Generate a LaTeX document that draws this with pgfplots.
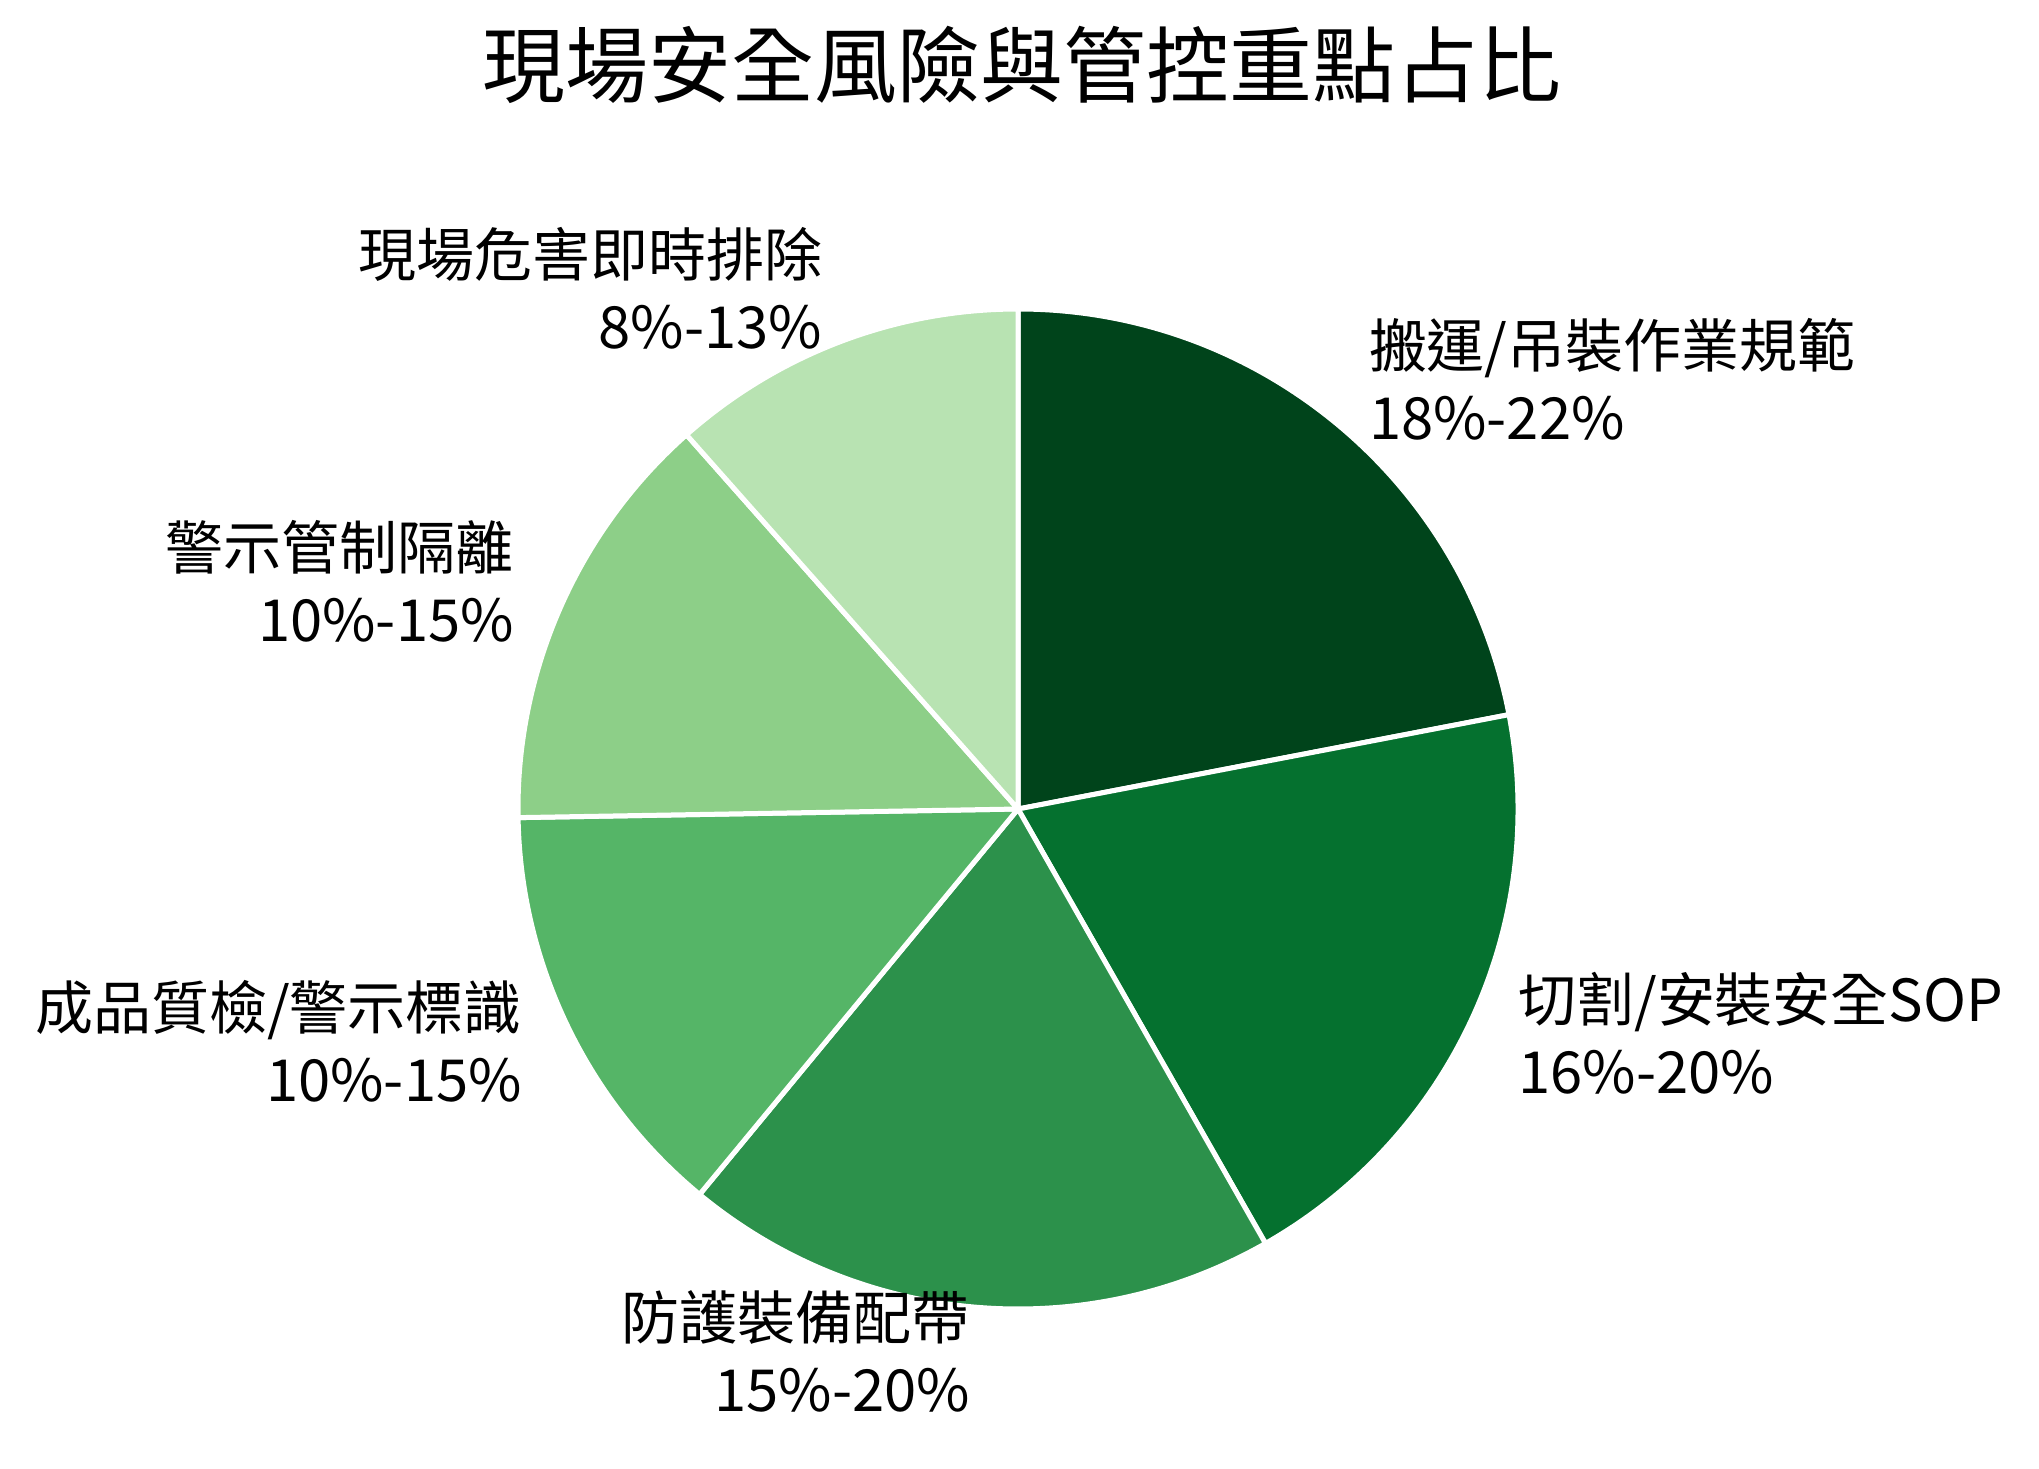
\documentclass[border=0pt]{standalone}
\usepackage{pgfplots}
\pgfplotsset{compat=1.18}
\usepackage{pgfplotstable}
\usepackage{fontspec}
\setmainfont{Noto Sans CJK TC}

\definecolor{pc0}{HTML}{00441B}
\definecolor{pc1}{HTML}{05712F}
\definecolor{pc2}{HTML}{2C914B}
\definecolor{pc3}{HTML}{55B567}
\definecolor{pc4}{HTML}{8DCF88}
\definecolor{pc5}{HTML}{B8E3B2}

% range of each item, in percent; the slice is the midpoint
\pgfplotstableread[col sep=comma]{
name,low,high
搬運/吊裝作業規範,18,22
切割/安裝安全SOP,16,20
防護裝備配帶,15,20
成品質檢/警示標識,10,15
警示管制隔離,10,15
現場危害即時排除,8,13
}\piedata

\begin{document}
\begin{tikzpicture}
% slice angles, clockwise from 12 o'clock
\def\total{0}
\pgfplotsforeachungrouped \i in {0,...,5}{%
  \pgfplotstablegetelem{\i}{low}\of\piedata \let\lo\pgfplotsretval
  \pgfplotstablegetelem{\i}{high}\of\piedata \let\hi\pgfplotsretval
  \pgfmathsetmacro\total{\total+(\lo+\hi)/2}%
}
\def\cur{90}
\pgfplotsforeachungrouped \i in {0,...,5}{%
  \pgfplotstablegetelem{\i}{low}\of\piedata \let\lo\pgfplotsretval
  \pgfplotstablegetelem{\i}{high}\of\piedata \let\hi\pgfplotsretval
  \pgfplotstablegetelem{\i}{name}\of\piedata \let\nm\pgfplotsretval
  \pgfmathsetmacro\sweep{360*(\lo+\hi)/2/\total}%
  \pgfmathsetmacro\nxt{\cur-\sweep}%
  \pgfmathsetmacro\pmid{\cur-\sweep/2}%
  \expandafter\xdef\csname pS\i\endcsname{\cur}%
  \expandafter\xdef\csname pE\i\endcsname{\nxt}%
  \expandafter\xdef\csname pM\i\endcsname{\pmid}%
  \pgfmathparse{cos(\pmid)>0?1:0}%
  \ifnum\pgfmathresult=1
    \expandafter\xdef\csname pA\i\endcsname{west}%
    \expandafter\xdef\csname pT\i\endcsname{left}%
  \else
    \expandafter\xdef\csname pA\i\endcsname{east}%
    \expandafter\xdef\csname pT\i\endcsname{right}%
  \fi
  \expandafter\xdef\csname pL\i\endcsname{\nm}%
  \expandafter\xdef\csname pR\i\endcsname{\lo\noexpand\%-\hi\noexpand\%}%
  \let\cur\nxt
}
\begin{axis}[
    scale only axis,
    width=20.39cm, height=14.68cm,
    xmin=0, xmax=2039, ymin=0, ymax=1468,
    hide axis,
    clip=false,
]
\path (axis cs:0,0) rectangle (axis cs:2039,1468);
\pgfplotsinvokeforeach{0,...,5}{
  \fill[pc#1, draw=white, line width=0.05cm, line join=round]
    (axis cs:1018,659) -- ([shift={(\csname pS#1\endcsname:5cm)}]axis cs:1018,659)
    arc[start angle=\csname pS#1\endcsname, end angle=\csname pE#1\endcsname, radius=5cm] -- cycle;
}
\pgfplotsinvokeforeach{0,...,5}{
  \node[anchor=\csname pA#1\endcsname, align=\csname pT#1\endcsname,
        font=\fontsize{16.5pt}{20.5pt}\selectfont, inner sep=0pt, yshift=0.06cm]
    at ([shift={(\csname pM#1\endcsname:5.5cm)}]axis cs:1018,659)
    {\csname pL#1\endcsname\\\csname pR#1\endcsname};
}
\node[font=\fontsize{23.6pt}{28pt}\selectfont] at (axis cs:1022,1403) {現場安全風險與管控重點占比};
\end{axis}
\end{tikzpicture}
\end{document}
